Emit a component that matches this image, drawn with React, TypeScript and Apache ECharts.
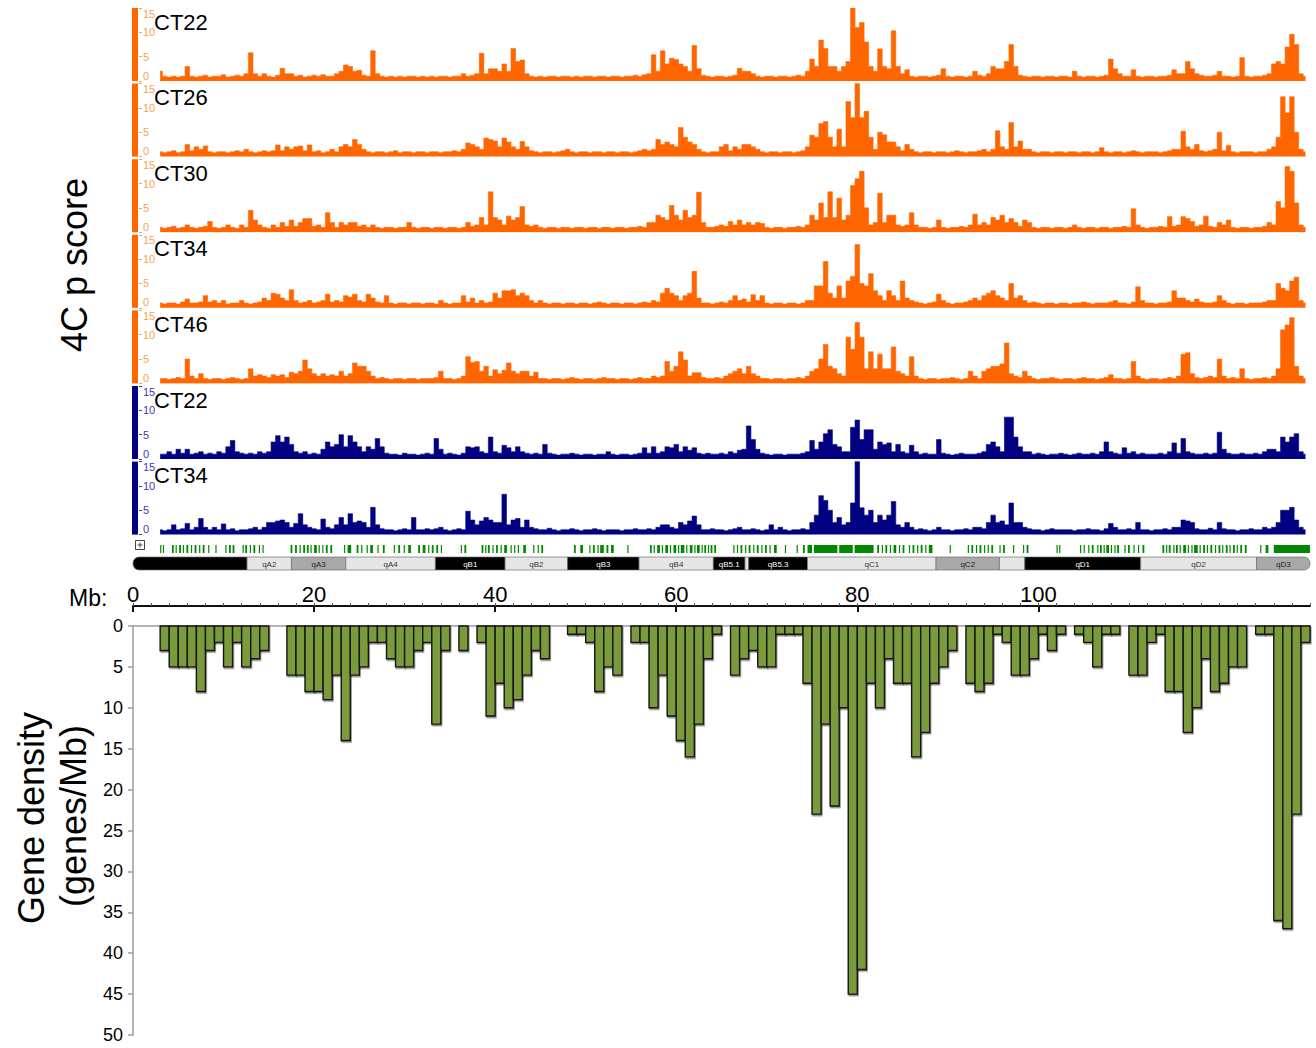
import React, { useEffect, useRef } from "react";
import * as echarts from "echarts";

const FONT = '"Liberation Sans", Arial, Helvetica, sans-serif';

// Chromosome extent shared by every panel (Mb)
const CHROM_MIN = 0;
const CHROM_MAX = 130;

// 4C tracks: p-score sampled every 0.5 Mb starting at 3 Mb
const TRACK_START_MB = 3;
const TRACK_STEP_MB = 0.5;

const orangeCT22 = [
  2, 1, 0.8, 1, 0.8, 1, 3, 1, 0.8, 1, 1.2, 0.8, 1, 1, 1.3, 0.8, 1, 1.2, 1, 1.5,
  5.8, 1.5, 1, 1.5, 1, 0.8, 1.2, 2.6, 1.5, 1.5, 1, 1.2, 0.8, 1, 1.2, 1, 1.3, 1, 1, 1.5,
  2, 3.3, 3, 2, 2.2, 1.2, 1, 6.2, 1.5, 1, 0.8, 1, 0.8, 1, 0.8, 1, 1, 0.8, 1, 0.8,
  1, 0.8, 1, 1, 0.8, 1, 1, 1.5, 1, 1.2, 1.5, 5.7, 1.5, 2.5, 2.5, 2, 3.5, 2, 6.7, 4,
  4.3, 1.5, 1, 0.8, 1, 0.8, 1, 1, 0.8, 1, 1, 0.8, 1, 0.8, 1, 1, 0.8, 1, 1, 0.8,
  1, 1, 0.8, 1, 1, 1.2, 1, 1.3, 1.5, 5.4, 2, 6.2, 3.5, 4.7, 4.4, 3.5, 3, 2, 7.3, 2.5,
  1.2, 1, 0.8, 1, 1, 0.8, 1, 1.2, 2.6, 2, 2, 1.5, 1, 0.8, 1, 1, 0.8, 1, 1, 0.8,
  1, 1.2, 1, 2, 4.5, 3, 8.4, 6.7, 3, 3, 2, 3, 4, 15, 11, 12, 8, 3, 2, 6.6,
  3, 2.5, 10.3, 3, 1.5, 2.3, 1, 0.8, 1, 1, 0.8, 1, 1.2, 2.5, 1, 0.8, 1, 1, 0.8, 1,
  2, 1.2, 1, 1.5, 3, 2.5, 2.5, 4, 7.5, 3, 1.2, 1, 0.8, 1, 1, 0.8, 1, 1, 0.8, 1,
  1, 0.8, 2, 1, 0.8, 1, 1, 0.8, 1, 1.2, 4.5, 2.5, 1.5, 1, 1, 2.3, 1, 0.8, 1, 1,
  0.8, 1, 1, 1.2, 2.3, 1.5, 1.5, 4, 2.5, 1.5, 1.2, 1, 1, 1.2, 2, 1, 1, 0.8, 1, 4.8,
  1, 0.8, 1, 1, 1.2, 1.5, 3.5, 4, 3.5, 7, 9.6, 7.5, 1.5, 1,
];

const orangeCT26 = [
  1, 0.8, 1, 1.2, 0.8, 1, 2.5, 1.2, 2, 1.5, 2.2, 1, 0.8, 1, 1, 0.8, 1, 1.2, 1, 1.5,
  1, 0.8, 1, 1.2, 1, 1.2, 2.4, 1.2, 2, 1.5, 2, 2.2, 1.2, 2.4, 1, 1.2, 0.8, 1, 1.5, 1,
  2, 2.5, 2, 3.5, 2.5, 1.5, 1, 0.8, 1, 1, 0.8, 1, 1.2, 0.8, 1, 1, 0.8, 1, 1, 0.8,
  1, 1, 0.8, 1, 1, 1.2, 1, 1.5, 2.8, 2.5, 2, 1.5, 3.8, 3.5, 3.2, 2, 3.8, 3, 2, 1.5,
  3.1, 2, 1.2, 1, 0.8, 1, 1, 0.8, 1, 1.2, 1.5, 1, 0.8, 1, 1, 0.8, 1, 1, 0.8, 1,
  1, 0.8, 1, 1, 0.8, 1, 1.2, 1.5, 1.2, 1.5, 3.5, 2.5, 3, 2.5, 2, 6, 4, 3, 2.5, 1.5,
  1, 0.8, 1, 1, 2, 2.5, 1.2, 2, 1.5, 2.5, 2.5, 2, 1.5, 1, 0.8, 1, 1, 0.8, 1, 1,
  0.8, 1, 1.2, 2, 4.4, 4, 6.8, 7.2, 4, 2, 5.6, 2, 11.3, 8, 15, 8, 9.3, 4, 1.5, 5,
  4.5, 3, 3, 2, 1.2, 2.5, 1.5, 1, 0.8, 1, 1, 0.8, 1, 1, 0.8, 1, 1.2, 1, 0.8, 1,
  1, 1.2, 1.5, 1, 1.5, 5.3, 2, 1.5, 7, 2, 3.2, 1.5, 1.5, 1, 0.8, 1, 1, 0.8, 1, 1,
  0.8, 1, 1, 0.8, 1, 1, 0.8, 1, 1.8, 1, 0.8, 1, 1, 0.8, 1, 1.2, 1, 0.8, 1, 1,
  1, 0.8, 1, 1.2, 1.5, 1.5, 5.2, 2, 1.5, 2.5, 1.2, 1, 1.2, 1.5, 5, 1.2, 2.3, 1, 0.8, 1,
  1, 1, 0.8, 1, 1, 1.5, 2, 4, 12.3, 9, 12.3, 5, 1.5, 1,
];

const orangeCT30 = [
  1, 0.8, 1, 1.2, 0.8, 1, 1.5, 1, 0.8, 1, 1.2, 2.2, 1, 0.8, 1, 1.5, 1, 0.8, 1.5, 1,
  4.5, 2.5, 1.5, 1, 0.8, 1.5, 1, 2, 1.2, 2.5, 1.2, 2, 2.8, 2.8, 1.2, 1.5, 1, 4, 2, 1,
  2, 1.5, 2, 2, 1.2, 1.5, 1, 1.5, 1, 0.8, 1, 1, 0.8, 1, 1, 2, 1, 0.8, 1, 1,
  0.8, 1, 1, 0.8, 1, 1, 0.8, 1, 2, 1.2, 1.5, 3, 1.5, 8.3, 3, 2.5, 1.5, 3.3, 2.5, 3,
  5.3, 1.5, 1.2, 1.5, 1, 0.8, 1, 1, 0.8, 1, 1, 0.8, 1, 1, 0.8, 1, 1, 0.8, 1, 1,
  0.8, 1, 1, 0.8, 1, 1, 1.2, 1, 2, 2, 3.5, 3, 2.5, 5.5, 3.5, 2.5, 4.5, 3, 3.5, 8.2,
  2, 1, 1, 1.2, 1.5, 1.2, 2.2, 1.5, 2.5, 1.5, 2, 1.5, 2, 1.8, 1, 0.8, 1, 1, 0.8, 1,
  1, 1.2, 1, 1.5, 3.5, 2.5, 6, 3, 8.3, 3, 7, 2.5, 3.5, 9.6, 11, 12.5, 5, 1.5, 2, 8,
  2, 3.5, 3.5, 1.5, 1.2, 1.5, 4, 1.5, 1, 1, 0.8, 1, 2.5, 1, 0.8, 1, 1, 1.2, 1, 1.5,
  3.7, 1.5, 2, 1.5, 3, 2.5, 3.5, 2, 2.8, 2, 1.2, 2.5, 2, 1, 0.8, 1, 1, 0.8, 1, 1,
  0.8, 1, 1.5, 1, 0.8, 1, 1, 0.8, 1, 1, 0.8, 1, 1, 1.2, 1, 4.8, 1.5, 1, 0.8, 1,
  1, 1.2, 1, 3.2, 1.2, 1.5, 3.2, 2.8, 2.2, 1.2, 1.5, 3.3, 1.2, 1, 2, 1.5, 2.5, 1, 0.8, 1,
  1, 0.8, 1, 1, 1.2, 2, 1.5, 6.3, 5, 13.5, 12.5, 6, 1.5, 1,
];

const orangeCT34 = [
  1, 0.8, 1, 1, 0.8, 1.2, 1.8, 1, 1, 1.2, 2.5, 1.2, 1.5, 1, 1.5, 0.8, 1, 1, 1.5, 1,
  0.8, 1, 1.2, 2, 1.5, 3, 2.8, 2, 1.5, 3.7, 1.5, 1, 1.2, 1.5, 1, 1.2, 1.5, 2.8, 1.2, 1.5,
  1.2, 2.5, 2.2, 2.8, 1.5, 1.2, 2.8, 2, 1.2, 1, 2.5, 1, 0.8, 1, 1, 0.8, 1, 1, 0.8, 1,
  1, 0.8, 1.5, 1, 0.8, 1, 1, 2.5, 1.2, 2, 1, 1.5, 1, 1.2, 3, 2, 3.5, 3.5, 3.7, 2.5,
  3, 2.5, 1.5, 1, 1.5, 1, 0.8, 1, 1, 0.8, 1, 1, 0.8, 1, 1, 0.8, 1, 1.2, 1, 0.8,
  1, 1, 0.8, 1, 1, 0.8, 1, 1.2, 1, 1.5, 1.2, 3, 4, 3, 2.5, 1.5, 2.5, 3, 7.5, 2,
  1, 1, 0.8, 1, 1.2, 1, 1.5, 2.5, 1.5, 1.8, 1.2, 2.7, 1.5, 2.5, 1, 0.8, 1, 1, 0.8, 1,
  1, 0.8, 1, 1.5, 1.5, 4.5, 4.5, 9.5, 3, 2, 4.5, 2, 5.5, 6.5, 13, 5, 4.5, 7, 3.5, 2.5,
  1.5, 3.5, 2.5, 1.5, 5.5, 2, 1.5, 1.2, 1, 0.8, 1, 1.2, 2.8, 1.5, 1, 0.8, 1, 1, 1.2, 1.5,
  2, 1.5, 2.5, 3, 3.5, 2.5, 2, 1.5, 5, 2, 2.5, 1.5, 1, 1.2, 1, 0.8, 1, 1, 0.8, 1,
  1, 0.8, 1, 1, 1.2, 1, 0.8, 1, 1, 1, 1.2, 1.5, 1, 1, 0.8, 1.2, 4.3, 1.5, 1, 1,
  0.8, 1, 1, 1.2, 3.5, 2, 2, 1.5, 1.2, 1.8, 1.2, 1, 1, 1.2, 2.5, 1.5, 1, 0.8, 1, 1,
  0.8, 1, 1, 1, 1.2, 1.5, 1.5, 5, 4, 3.5, 5.5, 6.3, 1.5, 1,
];

const orangeCT46 = [
  1, 1, 0.8, 1, 1.2, 1, 5, 1.5, 1, 2, 1, 0.8, 1, 1, 0.8, 1, 1.2, 1, 0.8, 1,
  3, 1.5, 1.8, 1.5, 1.2, 1.8, 1.5, 1.8, 1.2, 2.3, 2, 2.5, 4.8, 3, 2, 1.5, 2, 1.5, 1.8, 1.5,
  2.5, 1.5, 2, 4.2, 3.5, 3.5, 2.5, 1.5, 1, 1.2, 1, 0.8, 1, 1, 0.8, 1, 1, 0.8, 1, 1,
  1, 1.2, 2.5, 1, 1, 0.8, 1, 1.5, 5.5, 4.3, 4.5, 2.5, 3.5, 1.5, 2.8, 2, 2.7, 4.2, 2.5, 2,
  2.5, 2.5, 1.5, 2.3, 1, 1, 0.8, 1, 1, 0.8, 1, 1.2, 1, 0.8, 1, 1, 0.8, 1, 1.2, 1,
  1, 0.8, 1, 1, 0.8, 1, 1.2, 1, 1, 1.5, 1.2, 1.5, 4.5, 2.5, 3.5, 6.5, 4.8, 1.5, 2.2, 2.2,
  1.2, 1, 1, 1.2, 1, 1.5, 2, 2.5, 3, 2, 3.5, 2, 1.5, 1, 1, 0.8, 1, 1, 0.8, 1,
  1, 1.2, 1, 1.5, 2.5, 3, 5, 8, 3.5, 3, 2, 1.5, 9.5, 7, 12.5, 9.5, 3, 6.5, 3, 6,
  3, 3, 7.5, 2.5, 2, 1.5, 5.5, 1.5, 1, 0.8, 1, 1, 0.8, 1, 1, 1.2, 1, 0.8, 1, 2.5,
  1.5, 1, 2.5, 3, 3.5, 3.5, 4, 8.3, 2, 1.5, 1.2, 2.5, 1.5, 1, 0.8, 1, 1, 1.2, 1, 0.8,
  1, 1, 0.8, 1, 1.2, 1, 1, 0.8, 1, 1.2, 1.8, 1, 1, 0.8, 1, 4.5, 1.5, 1, 0.8, 1,
  1, 0.8, 1, 1.2, 1, 1.5, 6, 6.3, 2, 1.2, 1, 1.2, 1.5, 1.2, 5, 1.5, 1, 1.2, 1, 3,
  1, 0.8, 1, 1, 1.2, 1, 1.5, 3, 11, 12, 13.5, 3.5, 1.5, 1,
];

const blueCT22 = [
  1, 1, 1.5, 1, 2, 1.2, 2, 1, 1.2, 1.5, 1, 1.2, 1, 1.5, 1.2, 2.5, 3.8, 1.5, 1.2, 1,
  1.2, 1, 1.5, 1.2, 1.5, 3.5, 4.8, 3.5, 4.5, 3, 1.5, 1.2, 1.5, 1, 1.2, 1, 2, 3.5, 2.5, 3,
  5, 2.5, 4.8, 3.5, 2.5, 1.5, 2.5, 2, 4.2, 2.5, 1.2, 1, 1, 0.8, 1.2, 1, 1, 0.8, 1, 1.2,
  1, 4.2, 2, 1, 1.2, 1, 0.8, 1.2, 2.5, 2.3, 2.5, 1.5, 1.2, 4.5, 1.5, 1.2, 2.8, 2.3, 1.5, 2.5,
  1.5, 1.2, 1, 1.2, 1, 3, 1.2, 1, 0.8, 1, 1, 1.2, 1, 0.8, 1, 1, 0.8, 1, 1, 1.5,
  1, 0.8, 1, 1, 0.8, 1, 1.2, 2.3, 1.2, 2.5, 1.2, 1.5, 2.5, 2.3, 3, 1.5, 2.5, 1.8, 2.3, 1.2,
  1, 1.2, 1, 1, 1.2, 1, 1.5, 1.2, 1.8, 2, 6.8, 4, 2, 1.2, 1, 0.8, 1, 1, 0.8, 1,
  1, 1, 1.2, 1.5, 3.8, 2, 3.5, 5.2, 6, 3, 2.5, 1.5, 1.5, 6.5, 8, 4, 6, 6, 2, 3.5,
  3, 3.3, 1.5, 3, 1.5, 1.2, 2.8, 1.5, 1, 1.2, 1, 1, 4, 1.2, 1, 0.8, 1, 1.2, 1, 1,
  1, 1.2, 1.5, 3, 3.5, 2.5, 1.5, 8.6, 8.6, 4.5, 2.5, 1.5, 1.5, 1, 1.2, 1, 0.8, 1, 1, 1.2,
  1, 0.8, 1, 1.2, 1, 1, 1.2, 1, 1.5, 3.5, 1.5, 1.2, 1, 2.3, 1.2, 1.5, 1, 1.2, 1, 1,
  1, 1.2, 1, 1.5, 3.3, 1.2, 4.2, 1.5, 1.2, 1, 1, 1.2, 1, 1.2, 5.5, 2, 1.2, 1, 1, 1.2,
  1, 1, 1.2, 1, 1.5, 2, 2, 1.5, 4.5, 3.5, 4.5, 5.2, 1.5, 1,
];

const blueCT34 = [
  1, 0.8, 1, 2, 1, 1.2, 2.3, 1, 1.5, 3.3, 1.5, 1, 1.5, 1, 2.2, 1, 1.2, 0.8, 1, 1,
  1.2, 1.5, 1, 1.5, 2.5, 2.5, 2.8, 3, 2.5, 1.5, 2.3, 4.3, 2, 1.5, 1.2, 1, 3.2, 1.5, 1.2, 2,
  3.5, 2, 4.3, 2.5, 2.8, 2.5, 1.5, 5.6, 2, 1.2, 1, 1, 0.8, 1, 1.2, 1, 3.5, 1, 1, 1.2,
  1, 1.2, 1.5, 1, 0.8, 1, 1.2, 1, 4.8, 3, 2, 2.8, 3.5, 3, 2.5, 2.5, 8.3, 2, 3, 3.3,
  1.5, 3, 1.5, 1.2, 1, 1, 1.3, 1, 0.8, 1, 1, 1.2, 1, 0.8, 1, 1, 1.2, 1, 0.8, 1,
  1, 1, 0.8, 1, 1, 1.2, 1, 1, 1.2, 1, 1.5, 2, 2, 1.5, 1.2, 2.5, 2, 2.8, 3.8, 2,
  1, 1, 1.2, 1, 1, 0.8, 1, 1.2, 1.5, 1, 1, 1.2, 1, 0.8, 1, 2, 1, 1.5, 1, 0.8,
  1, 1, 1.2, 1, 2.5, 4, 8, 7, 5, 2.5, 3.5, 2, 2.5, 6.5, 15, 5.5, 4, 5, 2.5, 4,
  3, 4, 6.8, 2, 1.5, 2.5, 1.5, 1, 1.2, 1, 0.8, 1, 1.5, 1, 1, 0.8, 1, 1, 1.2, 1,
  1.5, 1.5, 1.2, 2.5, 4, 2.5, 2.8, 2, 6.5, 2.5, 2.5, 1.5, 1.2, 1, 1, 0.8, 1, 1.2, 1, 1,
  1, 1, 0.8, 1, 1, 1.2, 1, 1, 0.8, 1.2, 2.3, 1.5, 1, 1, 1.2, 1, 2.5, 1, 1, 0.8,
  1, 1, 1.2, 1, 1.5, 1.5, 3, 2.8, 2.5, 1.2, 1, 1, 1.3, 1, 2.5, 1.2, 1, 1, 0.8, 1,
  1, 1.2, 1, 1, 1.5, 1.2, 1.5, 2.5, 5, 5, 5.6, 3, 1.5, 1,
];

const trackNames = ["CT22", "CT26", "CT30", "CT34", "CT46", "CT22", "CT34"];
const trackValues = [orangeCT22, orangeCT26, orangeCT30, orangeCT34, orangeCT46, blueCT22, blueCT34];
const trackTicks = [0, 5, 10, 15];

// Gene density, genes per 1 Mb bin (bin i covers i..i+1 Mb)
const geneDensity = [
  0, 0, 0, 3, 5, 5, 5, 8, 3, 2, 5, 2, 5, 4, 3, 0, 0, 6, 6, 8,
  8, 9, 6, 14, 6, 5, 2, 2, 4, 5, 5, 3, 2, 12, 3, 0, 3, 0, 2, 11,
  7, 10, 9, 6, 3, 4, 0, 0, 1, 1, 2, 8, 5, 6, 0, 2, 2, 10, 6, 11,
  14, 16, 12, 4, 1, 0, 6, 4, 3, 5, 5, 1, 1, 1, 7, 23, 12, 22, 10, 45,
  42, 7, 10, 4, 7, 7, 16, 13, 7, 5, 3, 0, 7, 8, 7, 1, 2, 6, 6, 4,
  1, 3, 1, 0, 1, 2, 5, 1, 1, 0, 6, 6, 2, 1, 8, 8, 13, 10, 4, 8,
  7, 5, 5, 0, 1, 1, 36, 37, 23, 2,
];
const densityTicks = [0, 5, 10, 15, 20, 25, 30, 35, 40, 45, 50];
const mbLabels = [0, 20, 40, 60, 80, 100, 120];

// Cytogenetic bands (Mb)
const bandNames = ["", "qA2", "qA3", "qA4", "qB1", "qB2", "qB3", "qB4", "qB5.1", "", "qB5.3", "qC1", "qC2", "", "qD1", "qD2", "qD3"];
const bandStart = [0, 12.6, 17.5, 23.5, 33.4, 41.1, 48.0, 55.9, 64.1, 67.6, 68.0, 74.5, 88.7, 95.7, 98.5, 111.3, 124.1];
const bandEnd = [12.6, 17.5, 23.5, 33.4, 41.1, 48.0, 55.9, 64.1, 67.6, 68.0, 74.5, 88.7, 95.7, 98.5, 111.3, 124.1, 130];
const bandStain = ["black", "light", "gray", "light", "black", "light", "black", "light", "black", "light", "black", "light", "gray", "light", "black", "light", "gray"];

// Annotated genes, [start, end] in Mb
const genes: [number, number][] = [
  [3.0, 3.1], [3.3, 3.4], [4.3, 4.5], [4.7, 4.8], [5.1, 5.3], [5.5, 5.6], [5.9, 6.1], [6.4, 6.5], [6.8, 7.0],
  [7.3, 7.4], [7.7, 7.9], [8.3, 8.4], [9.1, 9.2], [10.2, 10.3], [10.6, 10.8], [11.0, 11.2],
  [12.1, 12.2], [12.4, 12.6], [12.9, 13.0], [13.3, 13.5], [13.9, 14.0], [14.3, 14.4],
  [17.4, 17.6], [17.9, 18.1], [18.4, 18.5], [18.8, 19.0], [19.2, 19.4], [19.6, 19.7], [20.0, 20.3],
  [20.5, 20.6], [20.9, 21.0], [21.3, 21.5], [21.8, 22.0], [23.3, 23.4], [23.7, 24.1], [24.7, 24.9],
  [25.2, 25.3], [25.8, 25.9], [26.2, 26.5], [27.0, 27.1], [27.6, 27.8], [28.8, 28.9], [29.3, 29.5],
  [29.9, 30.0], [30.4, 30.7], [31.5, 31.7], [32.0, 32.3], [32.6, 32.7], [33.0, 33.2], [33.5, 33.7],
  [34.0, 34.1], [36.2, 36.3], [36.6, 36.8], [38.5, 38.7], [38.9, 39.0], [39.2, 39.4], [39.7, 39.8],
  [40.1, 40.3], [40.6, 40.7], [41.0, 41.3], [41.7, 41.8], [42.1, 42.2], [42.5, 42.6], [43.1, 43.4],
  [44.2, 44.3], [44.7, 44.8], [45.1, 45.3], [48.7, 48.9], [49.4, 49.7], [50.4, 50.5], [50.8, 51.0],
  [51.3, 51.4], [51.6, 52.0], [52.3, 52.5], [52.8, 53.1], [54.6, 54.7], [57.1, 57.3], [57.5, 57.6],
  [57.9, 58.2], [58.4, 58.5], [58.8, 59.1], [59.3, 59.4], [59.7, 60.0], [60.2, 60.3], [60.5, 60.9],
  [61.1, 61.2], [61.5, 61.8], [62.0, 62.1], [62.3, 62.6], [62.8, 62.9], [63.1, 63.3], [63.5, 63.6],
  [63.8, 64.0], [64.2, 64.4], [66.3, 66.4], [66.7, 66.8], [67.1, 67.3], [67.6, 67.7], [68.0, 68.2],
  [68.5, 68.6], [68.9, 69.1], [69.4, 69.5], [69.8, 70.0], [70.3, 70.4], [70.8, 71.1], [72.0, 72.1],
  [73.3, 73.4], [74.0, 74.2], [74.5, 75.0], [75.2, 77.8], [78.0, 79.5], [79.7, 81.8], [82.2, 82.4],
  [82.7, 82.8], [83.1, 83.3], [83.6, 83.7], [84.0, 84.3], [84.6, 84.7], [85.0, 85.2], [85.7, 85.8],
  [86.1, 86.3], [86.6, 86.7], [87.0, 87.2], [87.5, 87.6], [87.9, 88.3], [90.2, 90.3], [92.2, 92.3],
  [92.6, 92.8], [93.1, 93.2], [93.5, 93.7], [94.0, 94.1], [94.4, 94.5], [94.8, 95.0], [95.7, 95.8],
  [96.1, 96.3], [97.2, 97.3], [98.3, 98.4], [98.7, 98.9], [102.0, 102.1], [102.3, 102.4],
  [104.6, 104.7], [105.0, 105.1], [105.5, 105.6], [105.9, 106.1], [106.5, 106.6], [106.8, 107.0],
  [107.2, 107.3], [107.5, 107.8], [108.0, 108.1], [108.4, 108.5], [108.7, 108.9], [109.5, 109.6],
  [109.9, 110.1], [110.5, 110.6], [111.0, 111.1], [111.5, 111.7], [113.7, 113.9], [114.1, 114.2],
  [114.4, 114.6], [114.9, 115.0], [115.2, 115.4], [115.6, 115.7], [116.0, 116.3], [116.5, 116.6],
  [116.9, 117.0], [117.2, 117.6], [117.8, 117.9], [118.2, 118.4], [118.6, 118.7], [119.0, 119.2],
  [119.5, 119.6], [119.9, 120.1], [120.3, 120.4], [120.7, 120.9], [121.1, 121.2], [121.5, 121.7],
  [121.9, 122.0], [122.3, 122.5], [122.8, 123.0], [124.5, 124.6], [125.1, 125.4], [126.0, 130.0],
];

// Styling
const ORANGE = "#ff6600";
const ORANGE_LABEL = "#f6a256";
const NAVY = "#000080";
const NAVY_LABEL = "#3a3ab0";
const trackColors = [ORANGE, ORANGE, ORANGE, ORANGE, ORANGE, NAVY, NAVY];
const trackLabelColors = [ORANGE_LABEL, ORANGE_LABEL, ORANGE_LABEL, ORANGE_LABEL, ORANGE_LABEL, NAVY_LABEL, NAVY_LABEL];
const stainFill: Record<string, string> = { black: "#000000", light: "#e6e6e6", gray: "#a9a9a9" };
const stainText: Record<string, string> = { black: "#ffffff", light: "#333333", gray: "#222222" };

const PLOT_LEFT = 133;
const PLOT_RIGHT = 6;
const TRACK_TOP = 8;
const TRACK_PITCH = 75.6;
const TRACK_HEIGHT = 73;

function buildOption(): any {
  const nTracks = trackValues.length;
  const grids: any[] = [];
  const xAxes: any[] = [];
  const yAxes: any[] = [];
  const series: any[] = [];
  const graphics: any[] = [];

  trackValues.forEach((vals, k) => {
    const top = TRACK_TOP + k * TRACK_PITCH;
    grids.push({ left: PLOT_LEFT, right: PLOT_RIGHT, top, height: TRACK_HEIGHT });
    xAxes.push({ gridIndex: k, type: "value", min: CHROM_MIN, max: CHROM_MAX, show: false });
    yAxes.push({
      gridIndex: k,
      type: "value",
      min: trackTicks[0],
      max: trackTicks[trackTicks.length - 1],
      interval: trackTicks[1] - trackTicks[0],
      offset: -6,
      axisLine: { show: false },
      axisTick: { show: true, inside: true, length: 3, lineStyle: { color: trackLabelColors[k], width: 1 } },
      axisLabel: {
        inside: true,
        margin: 4,
        fontSize: 11,
        color: trackLabelColors[k],
        fontFamily: FONT,
        verticalAlignMinLabel: "bottom",
        verticalAlignMaxLabel: "top",
      },
      splitLine: { show: false },
    });
    series.push({
      type: "line",
      xAxisIndex: k,
      yAxisIndex: k,
      data: vals.map((v, i) => [TRACK_START_MB + i * TRACK_STEP_MB, v]),
      step: "middle",
      showSymbol: false,
      symbol: "none",
      silent: true,
      lineStyle: { color: trackColors[k], width: 0.6 },
      areaStyle: { color: trackColors[k], opacity: 1 },
      z: 2,
    });
    // coloured strip that marks the track on the left
    graphics.push({
      type: "rect",
      shape: { x: 132, y: top, width: 6, height: TRACK_HEIGHT },
      style: { fill: trackColors[k] },
      z: 5,
    });
    graphics.push({
      type: "text",
      left: 154,
      top: top + 3,
      z: 10,
      style: { text: trackNames[k], fontSize: 22, fill: "#000", fontFamily: FONT },
    });
  });

  // Gene annotation strip
  const geneGrid = nTracks;
  grids.push({ left: PLOT_LEFT, right: PLOT_RIGHT, top: 545, height: 8 });
  xAxes.push({ gridIndex: geneGrid, type: "value", min: CHROM_MIN, max: CHROM_MAX, show: false });
  yAxes.push({ gridIndex: geneGrid, type: "value", min: 0, max: 1, show: false });
  series.push({
    type: "custom",
    xAxisIndex: geneGrid,
    yAxisIndex: geneGrid,
    silent: true,
    data: genes,
    renderItem: (_p: any, api: any) => {
      const a = api.coord([api.value(0), 1]);
      const b = api.coord([api.value(1), 0]);
      return {
        type: "rect",
        shape: { x: a[0], y: a[1], width: Math.max(1.2, b[0] - a[0]), height: b[1] - a[1] },
        style: { fill: "#008800" },
      };
    },
  });

  // Chromosome ideogram
  const ideoGrid = nTracks + 1;
  grids.push({ left: PLOT_LEFT, right: PLOT_RIGHT, top: 557, height: 13 });
  xAxes.push({ gridIndex: ideoGrid, type: "value", min: CHROM_MIN, max: CHROM_MAX, show: false });
  yAxes.push({ gridIndex: ideoGrid, type: "value", min: 0, max: 1, show: false });
  const lastBand = bandNames.length - 1;
  series.push({
    type: "custom",
    xAxisIndex: ideoGrid,
    yAxisIndex: ideoGrid,
    silent: true,
    data: bandStart.map((s, i) => [s, bandEnd[i]]),
    renderItem: (params: any, api: any) => {
      const i = params.dataIndex;
      const a = api.coord([api.value(0), 1]);
      const b = api.coord([api.value(1), 0]);
      const w = b[0] - a[0];
      const h = b[1] - a[1];
      const r = i === 0 ? [6, 0, 0, 6] : i === lastBand ? [0, 6, 6, 0] : 0;
      const stain = bandStain[i];
      return {
        type: "group",
        children: [
          {
            type: "rect",
            shape: { x: a[0], y: a[1], width: w, height: h, r },
            style: { fill: stainFill[stain], stroke: "#6e6e6e", lineWidth: 0.7 },
          },
          {
            type: "text",
            style: {
              text: bandNames[i],
              x: a[0] + w / 2,
              y: a[1] + h / 2 + 0.5,
              align: "center",
              verticalAlign: "middle",
              fontSize: 8,
              fontFamily: FONT,
              fill: stainText[stain],
            },
          },
        ],
      };
    },
  });

  // Gene density bars with the Mb ruler on top
  const barGrid = nTracks + 2;
  const barTop = 626;
  grids.push({ left: PLOT_LEFT, right: PLOT_RIGHT, top: barTop, height: 409 });
  const barX = xAxes.length;
  xAxes.push({
    gridIndex: barGrid,
    type: "value",
    min: CHROM_MIN,
    max: CHROM_MAX,
    position: "top",
    axisLine: { show: true, lineStyle: { color: "#9c9c9c", width: 1.5 } },
    axisTick: { show: false },
    axisLabel: { show: false },
    splitLine: { show: false },
  });
  xAxes.push({
    gridIndex: barGrid,
    type: "value",
    min: CHROM_MIN,
    max: CHROM_MAX,
    interval: mbLabels[1] - mbLabels[0],
    position: "top",
    offset: 20,
    axisLine: { show: true, lineStyle: { color: "#111", width: 2 } },
    axisTick: { show: true, inside: true, length: 6, customValues: mbLabels, lineStyle: { color: "#111", width: 2 } },
    axisLabel: {
      show: true,
      margin: 1,
      fontSize: 22,
      color: "#000",
      fontFamily: FONT,
      customValues: mbLabels,
      showMaxLabel: false,
    },
    splitLine: { show: false },
  });
  xAxes.push({
    gridIndex: barGrid,
    type: "value",
    min: CHROM_MIN,
    max: CHROM_MAX,
    interval: 2,
    position: "top",
    offset: 20,
    axisLine: { show: false },
    axisTick: { show: true, inside: false, length: 3, lineStyle: { color: "#555", width: 1 } },
    axisLabel: { show: false },
    splitLine: { show: false },
  });
  const barY = yAxes.length;
  yAxes.push({
    gridIndex: barGrid,
    type: "value",
    inverse: true,
    min: densityTicks[0],
    max: densityTicks[densityTicks.length - 1],
    interval: densityTicks[1] - densityTicks[0],
    axisLine: { show: true, lineStyle: { color: "#9c9c9c", width: 1.5 } },
    axisTick: { show: true, length: 5, lineStyle: { color: "#9c9c9c", width: 1.5 } },
    axisLabel: { fontSize: 18, color: "#000", margin: 10, fontFamily: FONT },
    splitLine: { show: false },
  });
  series.push({
    type: "custom",
    xAxisIndex: barX,
    yAxisIndex: barY,
    silent: true,
    data: geneDensity.map((v, i) => [i, v]).filter((d) => d[1] > 0),
    renderItem: (_p: any, api: any) => {
      const x = api.value(0);
      const p0 = api.coord([x, 0]);
      const p1 = api.coord([x + 1, api.value(1)]);
      return {
        type: "rect",
        shape: { x: p0[0], y: p0[1], width: p1[0] - p0[0], height: p1[1] - p0[1] },
        style: {
          fill: "#7a9a3a",
          stroke: "#161616",
          lineWidth: 1.4,
          shadowColor: "rgba(0,0,0,0.45)",
          shadowBlur: 1.5,
          shadowOffsetX: 0.8,
          shadowOffsetY: 1.5,
        },
      };
    },
  });

  // Titles and small decorations
  graphics.push(
    {
      type: "text",
      x: 74,
      y: 265,
      rotation: Math.PI / 2,
      style: { text: "4C p score", fontSize: 36, fill: "#000", fontFamily: FONT, align: "center", verticalAlign: "middle" },
    },
    {
      type: "text",
      x: 31,
      y: 818,
      rotation: Math.PI / 2,
      style: { text: "Gene density", fontSize: 36, fill: "#000", fontFamily: FONT, align: "center", verticalAlign: "middle" },
    },
    {
      type: "text",
      x: 73,
      y: 816,
      rotation: Math.PI / 2,
      style: { text: "(genes/Mb)", fontSize: 36, fill: "#000", fontFamily: FONT, align: "center", verticalAlign: "middle" },
    },
    {
      type: "text",
      left: 69,
      top: 586,
      style: { text: "Mb:", fontSize: 23, fill: "#000", fontFamily: FONT },
    },
    {
      type: "group",
      left: 135,
      top: 540,
      children: [
        { type: "rect", shape: { x: 0, y: 0, width: 9, height: 9 }, style: { fill: "#fff", stroke: "#444", lineWidth: 1 } },
        { type: "line", shape: { x1: 2, y1: 4.5, x2: 7, y2: 4.5 }, style: { stroke: "#444", lineWidth: 1 } },
        { type: "line", shape: { x1: 4.5, y1: 2, x2: 4.5, y2: 7 }, style: { stroke: "#444", lineWidth: 1 } },
      ],
    }
  );

  return {
    animation: false,
    backgroundColor: "#ffffff",
    textStyle: { fontFamily: FONT },
    grid: grids,
    xAxis: xAxes,
    yAxis: yAxes,
    series,
    graphic: graphics,
  };
}

export default function App() {
  const ref = useRef<HTMLDivElement>(null);

  useEffect(() => {
    if (!ref.current) return;
    const chart = echarts.init(ref.current, undefined, { renderer: "svg" });
    chart.setOption(buildOption());
    return () => chart.dispose();
  }, []);

  return (
    <div
      ref={ref}
      style={{ position: "absolute", left: 0, top: 0, width: 1316, height: 1048, background: "#fff" }}
    />
  );
}
